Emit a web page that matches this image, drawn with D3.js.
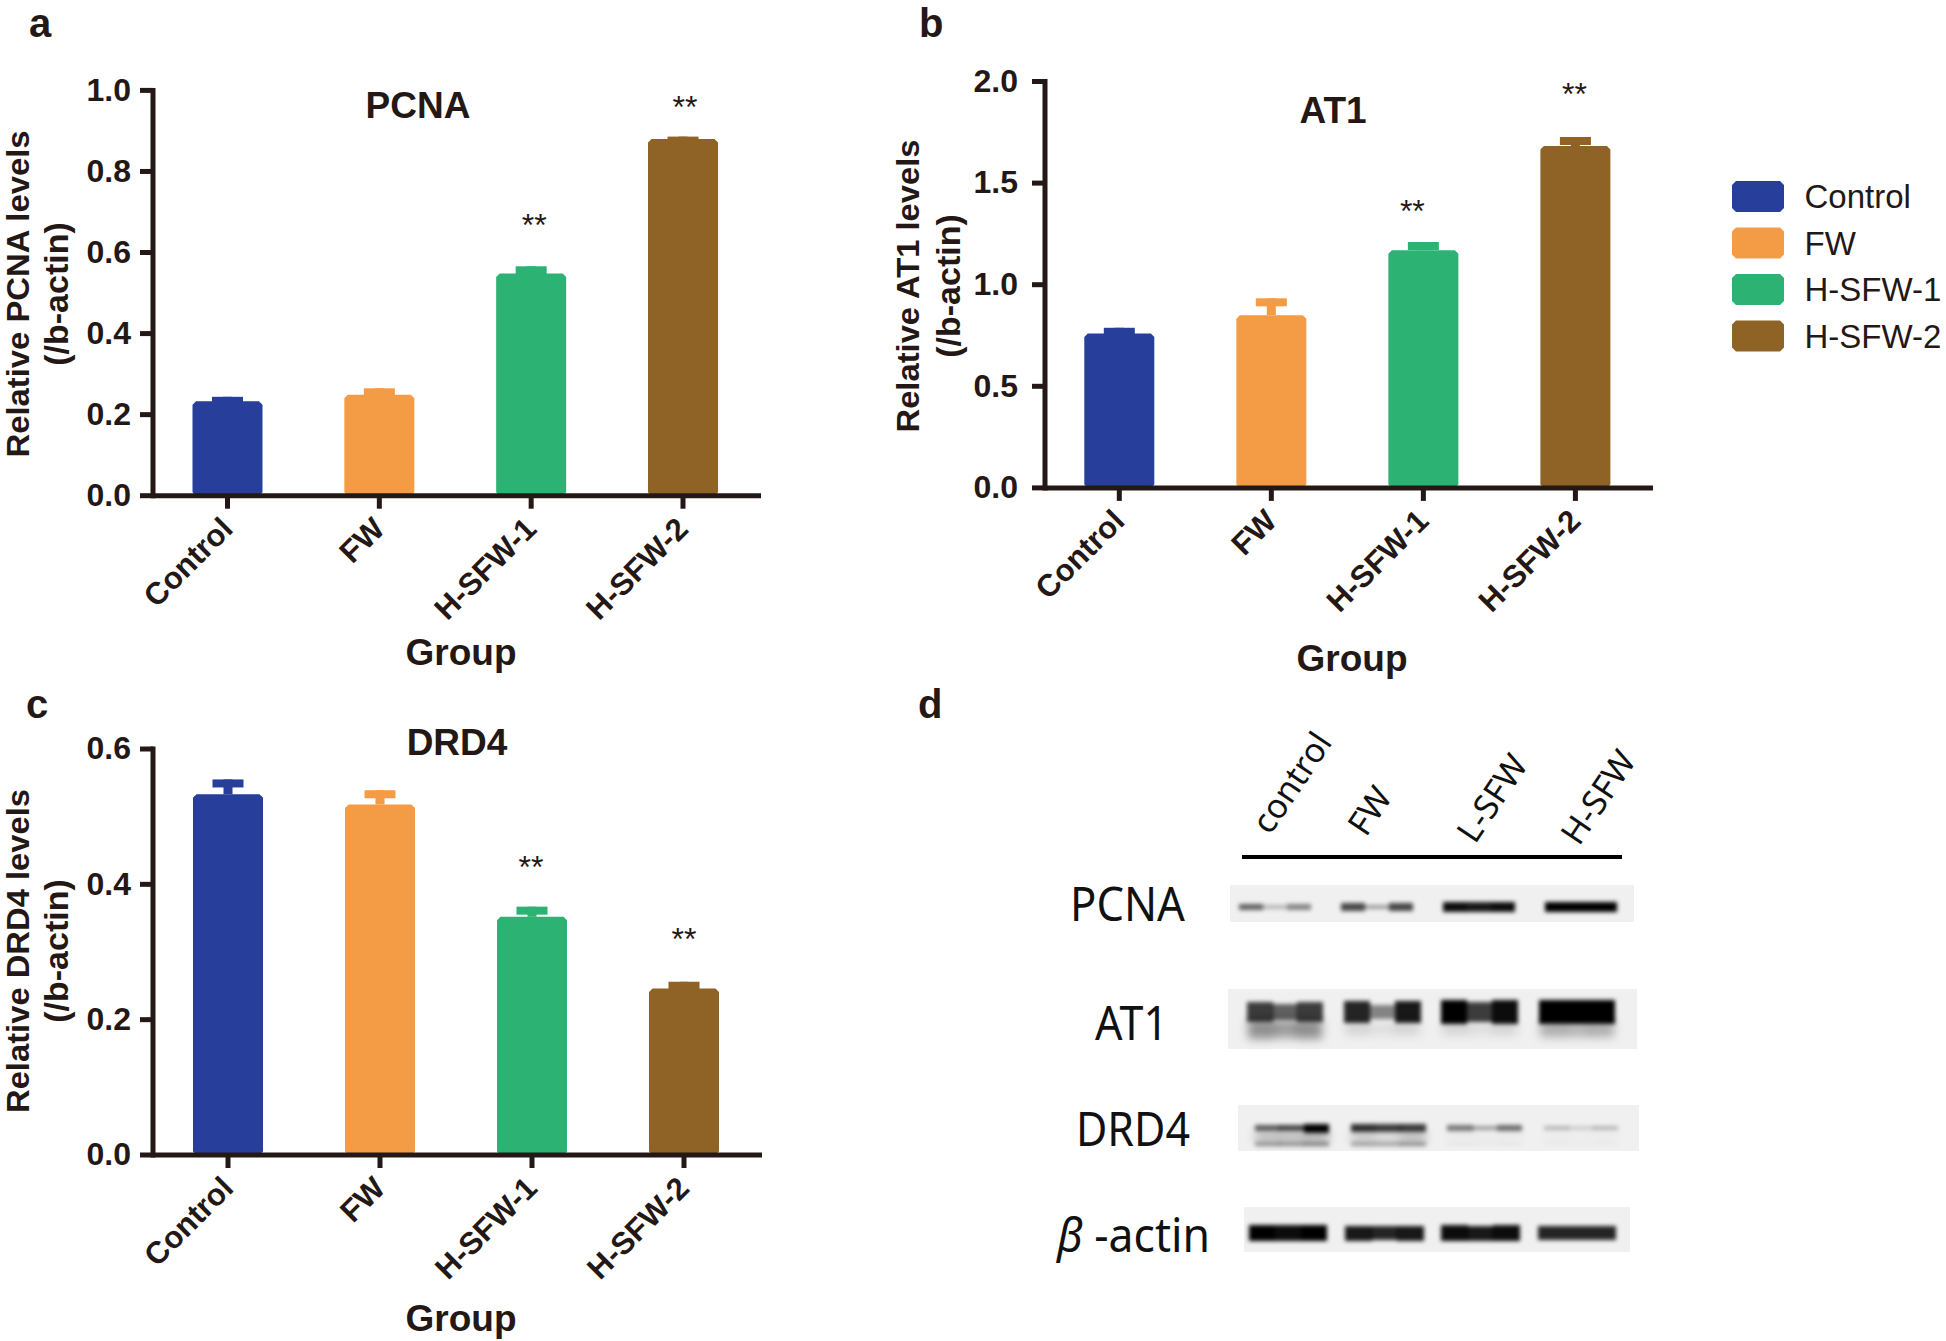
<!DOCTYPE html>
<html>
<head>
<meta charset="utf-8">
<script src="https://cdn.jsdelivr.net/npm/d3@7"></script>
<style>
  html, body { margin: 0; padding: 0; background: #fff; }
  svg { display: block; }
  text { font-family: "Liberation Sans", Arial, sans-serif; fill: #231815; }
  .blot-text { font-family: "Noto Sans", sans-serif; fill: #111; }
</style>
</head>
<body>
<svg id="fig" width="1946" height="1341"></svg>
<script>
const groups = ['Control', 'FW', 'H-SFW-1', 'H-SFW-2'];
const groupColors = ['#273f9b', '#f49b45', '#2cb273', '#8f6225'];

const pcnaValues = [0.233, 0.249, 0.548, 0.880];
const pcnaTops = [0.244, 0.265, 0.566, 0.886];
const pcnaStars = ['', '', '**', '**'];
const pcnaTicks = [0, 0.2, 0.4, 0.6, 0.8, 1.0];

const at1Values = [0.76, 0.85, 1.17, 1.682];
const at1Tops = [0.788, 0.933, 1.21, 1.727];
const at1Stars = ['', '', '**', '**'];
const at1Ticks = [0, 0.5, 1.0, 1.5, 2.0];

const drd4Values = [0.533, 0.518, 0.352, 0.246];
const drd4Tops = [0.555, 0.539, 0.367, 0.256];
const drd4Stars = ['', '', '**', '**'];
const drd4Ticks = [0, 0.2, 0.4, 0.6];

// western blot: darkness of each lane's band, read as [left, middle, right]
const blotLanes = ['control', 'FW', 'L-SFW', 'H-SFW'];
const blotRows = ['PCNA', 'AT1', 'DRD4', 'β -actin'];
const pcnaBand = [[0.6, 0.25, 0.45], [0.7, 0.35, 0.7], [0.95, 0.9, 0.95], [1, 1, 1]];
const at1Band = [[0.75, 0.6, 0.75], [0.85, 0.45, 0.9], [1, 0.75, 0.95], [1, 1, 1]];
const at1Smear = [[0.4, 0.35, 0.4], [0.12, 0.08, 0.12], [0.12, 0.08, 0.12], [0.28, 0.25, 0.28]];
const drd4Band = [[0.6, 0.7, 1], [0.8, 0.75, 0.75], [0.5, 0.35, 0.55], [0.25, 0.15, 0.25]];
const drd4Smear = [[0.25, 0.25, 0.3], [0.2, 0.15, 0.25], [0.04, 0.03, 0.04], [0.03, 0.02, 0.03]];
const drd4Lower = [[0.35, 0.35, 0.4], [0.3, 0.3, 0.35], [0.05, 0.03, 0.05], [0.03, 0.02, 0.03]];
const actinBand = [[1, 0.95, 1], [0.9, 0.85, 0.9], [0.95, 0.9, 0.95], [0.85, 0.85, 0.85]];

const svg = d3.select('#fig');
const dark = '#231815';

const defs = svg.append('defs');
[['soft', 2.2], ['softer', 5]].forEach(([id, sd]) => {
  defs.append('filter').attr('id', id)
    .attr('x', '-40%').attr('y', '-120%').attr('width', '180%').attr('height', '340%')
    .append('feGaussianBlur').attr('stdDeviation', sd);
});

function drawPanel(p) {
  const x = d3.scalePoint().domain(groups).range(p.xRange);
  const y = d3.scaleLinear().domain([0, p.yMax]).range(p.yRange);
  const color = d3.scaleOrdinal().domain(groups).range(groupColors);
  const g = svg.append('g');
  const sw = 7, barW = 70 - sw;

  // error bars go under the bar body, same colour
  g.selectAll('.stem').data(groups).enter().append('line')
    .attr('x1', (d) => x(d)).attr('x2', (d) => x(d))
    .attr('y1', (d, i) => y(p.values[i])).attr('y2', (d, i) => y(p.tops[i]))
    .attr('stroke', (d) => color(d)).attr('stroke-width', 9);
  g.selectAll('.cap').data(groups).enter().append('rect')
    .attr('x', (d) => x(d) - 15.5).attr('width', 31)
    .attr('y', (d, i) => y(p.tops[i])).attr('height', 8)
    .attr('fill', (d) => color(d));

  // stroke with bevel joins gives the clipped corners of the bars
  g.selectAll('.bar').data(groups).enter().append('rect')
    .attr('x', (d) => x(d) - barW / 2).attr('width', barW)
    .attr('y', (d, i) => y(p.values[i]) + sw / 2)
    .attr('height', (d, i) => y(0) - y(p.values[i]) - sw)
    .attr('fill', (d) => color(d)).attr('stroke', (d) => color(d))
    .attr('stroke-width', sw).attr('stroke-linejoin', 'bevel');

  g.selectAll('.star').data(p.stars).enter().append('text')
    .attr('x', (d, i) => x(groups[i]) + p.starDx[i])
    .attr('y', (d, i) => p.starY[i])
    .attr('text-anchor', 'middle').attr('font-size', 32).text((d) => d);

  const yAxis = g.append('g').attr('transform', `translate(${p.axisX},0)`)
    .call(d3.axisLeft(y).tickValues(p.ticks).tickFormat(d3.format('.1f')).tickSize(13).tickSizeOuter(0).tickPadding(p.tickPad).offset(0));
  yAxis.select('.domain').attr('stroke', dark).attr('stroke-width', 5).attr('stroke-linecap', 'square');
  yAxis.selectAll('.tick line').attr('stroke', dark).attr('stroke-width', 5);
  yAxis.selectAll('.tick text').attr('font-size', 32).attr('font-weight', 700)
    .style('font-family', '"Liberation Sans", Arial, sans-serif').attr('fill', dark);

  const xAxis = g.append('g').attr('transform', `translate(0,${y(0)})`)
    .call(d3.axisBottom(x).tickSize(13).tickSizeOuter(0).offset(0));
  xAxis.select('.domain').remove();
  xAxis.selectAll('.tick line').attr('stroke', dark).attr('stroke-width', 5);
  xAxis.selectAll('.tick text')
    .attr('x', 0).attr('y', 0).attr('dy', 0)
    .attr('text-anchor', 'end')
    .attr('transform', 'translate(7,35) rotate(-45)')
    .attr('font-size', 31).attr('font-weight', 700)
    .style('font-family', '"Liberation Sans", Arial, sans-serif').attr('fill', dark);
  g.append('line').attr('x1', p.axisX).attr('x2', p.axisEnd)
    .attr('y1', y(0)).attr('y2', y(0)).attr('stroke', dark).attr('stroke-width', 5);

  g.append('text').attr('x', p.titleX).attr('y', p.titleY).attr('text-anchor', 'middle')
    .attr('font-size', 37).attr('font-weight', 700).text(p.title);
  g.append('text').attr('x', p.groupX).attr('y', p.groupY).attr('text-anchor', 'middle')
    .attr('font-size', 37).attr('font-weight', 700).text('Group');

  g.append('text').attr('transform', `translate(${p.labelX},${p.labelY}) rotate(-90)`)
    .attr('text-anchor', 'middle').attr('font-size', 32).attr('font-weight', 700)
    .attr('textLength', p.labelLen).attr('lengthAdjust', 'spacingAndGlyphs')
    .text(`Relative ${p.title} levels`);
  g.append('text').attr('transform', `translate(${p.label2X},${p.labelY}) rotate(-90)`)
    .attr('text-anchor', 'middle').attr('font-size', 34).attr('font-weight', 700).text('(/b-actin)');

  g.append('text').attr('x', p.letterX).attr('y', p.letterY)
    .attr('font-size', 40).attr('font-weight', 700).text(p.letter);
}

drawPanel({
  letter: 'a', letterX: 29, letterY: 36.5, title: 'PCNA', titleX: 418, titleY: 118,
  values: pcnaValues, tops: pcnaTops, stars: pcnaStars, ticks: pcnaTicks, yMax: 1,
  xRange: [227.5, 683], yRange: [495.7, 90.4], axisX: 153, axisEnd: 761, tickPad: 9,
  starDx: [0, 0, 3, 2], starY: [0, 0, 236, 118],
  groupX: 461, groupY: 665, labelX: 29, label2X: 68, labelY: 294, labelLen: 327
});
drawPanel({
  letter: 'b', letterX: 919, letterY: 36.5, title: 'AT1', titleX: 1333, titleY: 123,
  values: at1Values, tops: at1Tops, stars: at1Stars, ticks: at1Ticks, yMax: 2,
  xRange: [1119.3, 1575.4], yRange: [487.9, 81.5], axisX: 1045, axisEnd: 1653, tickPad: 14,
  starDx: [0, 0, -11, -1], starY: [0, 0, 222, 105],
  groupX: 1352, groupY: 671, labelX: 919, label2X: 960, labelY: 286, labelLen: 293
});
drawPanel({
  letter: 'c', letterX: 26, letterY: 718, title: 'DRD4', titleX: 457, titleY: 755,
  values: drd4Values, tops: drd4Tops, stars: drd4Stars, ticks: drd4Ticks, yMax: 0.6,
  xRange: [228, 684], yRange: [1155, 749], axisX: 153, axisEnd: 762, tickPad: 9,
  starDx: [0, 0, -1, 0], starY: [0, 0, 878, 950],
  groupX: 461, groupY: 1331, labelX: 29, label2X: 68, labelY: 951, labelLen: 324
});

// legend
const legendY = d3.scalePoint().domain(groups).range([196.5, 336]);
const legendColor = d3.scaleOrdinal().domain(groups).range(groupColors);
const legend = svg.append('g');
legend.selectAll('rect').data(groups).enter().append('rect')
  .attr('x', 1736).attr('width', 44)
  .attr('y', (d) => legendY(d) - 11.5).attr('height', 23)
  .attr('fill', (d) => legendColor(d)).attr('stroke', (d) => legendColor(d))
  .attr('stroke-width', 8).attr('stroke-linejoin', 'bevel');
legend.selectAll('text').data(groups).enter().append('text')
  .attr('x', 1804.5).attr('y', (d) => legendY(d) + 11.5)
  .attr('font-size', 33).text((d) => d);

// panel d, the blot
svg.append('text').attr('x', 918).attr('y', 718).attr('font-size', 40).attr('font-weight', 700).text('d');

const laneLabelX = d3.scaleOrdinal().domain(blotLanes).range([1270, 1366, 1475, 1579]);
const laneLabelY = d3.scaleOrdinal().domain(blotLanes).range([836, 838, 845, 847]);
const blot = svg.append('g');

blot.selectAll('.lane-label').data(blotLanes).enter().append('text')
  .attr('class', 'blot-text')
  .attr('transform', (d) => `translate(${laneLabelX(d)},${laneLabelY(d)}) rotate(-56)`)
  .attr('font-size', 34).text((d) => d);
blot.append('line').attr('x1', 1242).attr('x2', 1622).attr('y1', 857).attr('y2', 857)
  .attr('stroke', '#000').attr('stroke-width', 4);

const stripX = d3.scaleOrdinal().domain(blotRows).range([1230, 1228, 1238, 1244]);
const stripW = d3.scaleOrdinal().domain(blotRows).range([404, 409, 401, 386]);
const stripY = d3.scaleOrdinal().domain(blotRows).range([885, 989, 1105, 1207]);
const stripH = d3.scaleOrdinal().domain(blotRows).range([37, 60, 46, 45]);
blot.selectAll('.strip').data(blotRows).enter().append('rect')
  .attr('x', (d) => stripX(d)).attr('width', (d) => stripW(d))
  .attr('y', (d) => stripY(d)).attr('height', (d) => stripH(d))
  .attr('fill', '#f0f0f0');

// one band per lane: three touching segments, blurred together so no seam shows
function drawBands(bands, b) {
  const lane = d3.scalePoint().domain(blotLanes).range(b.laneRange);
  const seg = d3.scaleBand().domain([0, 1, 2]).range([-b.width / 2, b.width / 2]);
  const h = d3.scaleLinear().domain([0, 1]).range(b.thick);
  bands.forEach((lobes, i) => {
    const band = blot.append('g').attr('filter', `url(#${b.blur})`);
    band.selectAll('rect').data(lobes).enter().append('rect')
      .attr('x', (d, j) => lane(blotLanes[i]) + seg(j) - 0.3).attr('width', seg.bandwidth() + 0.6)
      .attr('y', (d) => b.cy - h(d) / 2).attr('height', (d) => h(d))
      .attr('fill', '#000').attr('fill-opacity', (d) => d)
      .attr('shape-rendering', 'crispEdges');
  });
}
drawBands(pcnaBand, { cy: 907, thick: [1, 10], width: 72, laneRange: [1275, 1581], blur: 'soft' });
drawBands(at1Smear, { cy: 1029, thick: [10, 34], width: 74, laneRange: [1285, 1577], blur: 'softer' });
drawBands(at1Band, { cy: 1012, thick: [6, 24], width: 76, laneRange: [1285, 1577], blur: 'soft' });
drawBands(drd4Smear, { cy: 1137, thick: [6, 22], width: 74, laneRange: [1292, 1581], blur: 'softer' });
drawBands(drd4Lower, { cy: 1144, thick: [2, 8], width: 74, laneRange: [1292, 1581], blur: 'soft' });
drawBands(drd4Band, { cy: 1128, thick: [2, 9], width: 74, laneRange: [1292, 1581], blur: 'soft' });
drawBands(actinBand, { cy: 1233, thick: [6, 16], width: 78, laneRange: [1288, 1577], blur: 'soft' });

const rowLabelX = d3.scaleOrdinal().domain(blotRows).range([1070, 1095, 1076, 1057]);
const rowLabelY = d3.scaleOrdinal().domain(blotRows).range([921, 1040, 1146, 1252]);
const rowLabelW = d3.scaleOrdinal().domain(blotRows).range([115, 73, 114, 153]);
blot.selectAll('.row-label').data(blotRows).enter().append('text')
  .attr('class', 'blot-text')
  .attr('x', (d) => rowLabelX(d)).attr('y', (d) => rowLabelY(d))
  .attr('font-size', 47)
  .attr('textLength', (d) => rowLabelW(d)).attr('lengthAdjust', 'spacingAndGlyphs')
  .each(function (d) {
    // the beta is set in italics, the rest upright
    const t = d3.select(this);
    if (d.startsWith('β')) {
      t.append('tspan').attr('font-style', 'italic').text(d.slice(0, 1));
      t.append('tspan').text(d.slice(1));
    } else {
      t.text(d);
    }
  });
</script>
</body>
</html>
